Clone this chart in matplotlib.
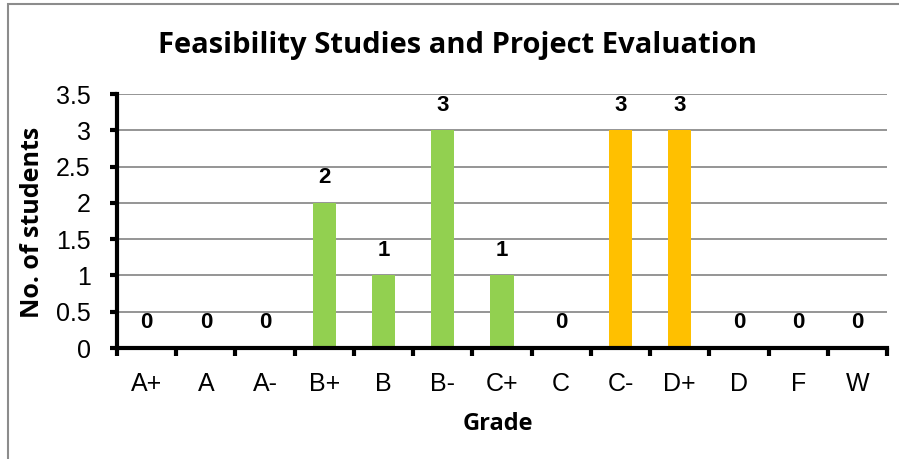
import matplotlib
matplotlib.use("Agg")
import matplotlib.pyplot as plt
from matplotlib.patches import Rectangle
import numpy as np

grades = ["A+", "A", "A-", "B+", "B", "B-", "C+", "C", "C-", "D+", "D", "F", "W"]
counts = [0, 0, 0, 2, 1, 3, 1, 0, 3, 3, 0, 0, 0]
colors = ["#92D050"] * 8 + ["#FFC000"] * 2 + ["#92D050"] * 3
yticks = [0, 0.5, 1, 1.5, 2, 2.5, 3, 3.5]
ytick_labels = ["0", "0.5", "1", "1.5", "2", "2.5", "3", "3.5"]

fig = plt.figure(figsize=(8.99, 4.59), dpi=100)
fig.patches.append(Rectangle((8/899, -0.1), 1.2, 1 - 4/459 + 0.1, transform=fig.transFigure,
                             fill=False, edgecolor="#8c8c8c", linewidth=1.5))
ax = fig.add_axes([117/899, 1 - 348/459, (887 - 117)/899, (348 - 94)/459])

x = np.arange(len(grades))
bars = ax.bar(x, counts, width=0.39, color=colors, zorder=3)
ax.set_xlim(-0.5, len(grades) - 0.5)
ax.set_ylim(0, 3.5)

ax.set_yticks(yticks)
ax.set_yticklabels(ytick_labels, fontfamily="Liberation Sans", fontsize=18)
ax.set_xticks(x)
ax.set_xticklabels(grades, fontfamily="Liberation Sans", fontsize=18)
ax.tick_params(axis="x", which="major", length=0, pad=17)
ax.set_xticks(np.arange(-0.5, len(grades)), minor=True)
ax.tick_params(axis="x", which="minor", direction="out", length=6, width=3, color="black")
ax.tick_params(axis="y", direction="out", length=5, width=3, pad=14)

ax.yaxis.grid(True, color="#8c8c8c", linewidth=1.3, zorder=0)
ax.set_axisbelow(True)
for s in ["top", "right"]:
    ax.spines[s].set_visible(False)
ax.spines["left"].set_linewidth(3)
ax.spines["bottom"].set_linewidth(3)
ax.spines["bottom"].set_zorder(4)

for xi, v in zip(x, counts):
    ax.annotate(str(v), (xi, v), xytext=(0, 18), textcoords="offset points",
                ha="center", va="center", fontfamily="Liberation Sans",
                fontweight="bold", fontsize=16)

fig.text(457/899, 1 - 46/459, "Feasibility Studies and Project Evaluation",
         ha="center", va="center", fontfamily="Open Sans", fontweight="bold", fontsize=21)
fig.text(498/899, 1 - 424/459, "Grade", ha="center", va="center",
         fontfamily="Open Sans", fontweight="bold", fontsize=17)
fig.text(33/899, 1 - 222/459, "No. of students", ha="center", va="center", rotation=90,
         fontfamily="Open Sans", fontweight="bold", fontsize=18)

fig.savefig("out.png", dpi=100)
